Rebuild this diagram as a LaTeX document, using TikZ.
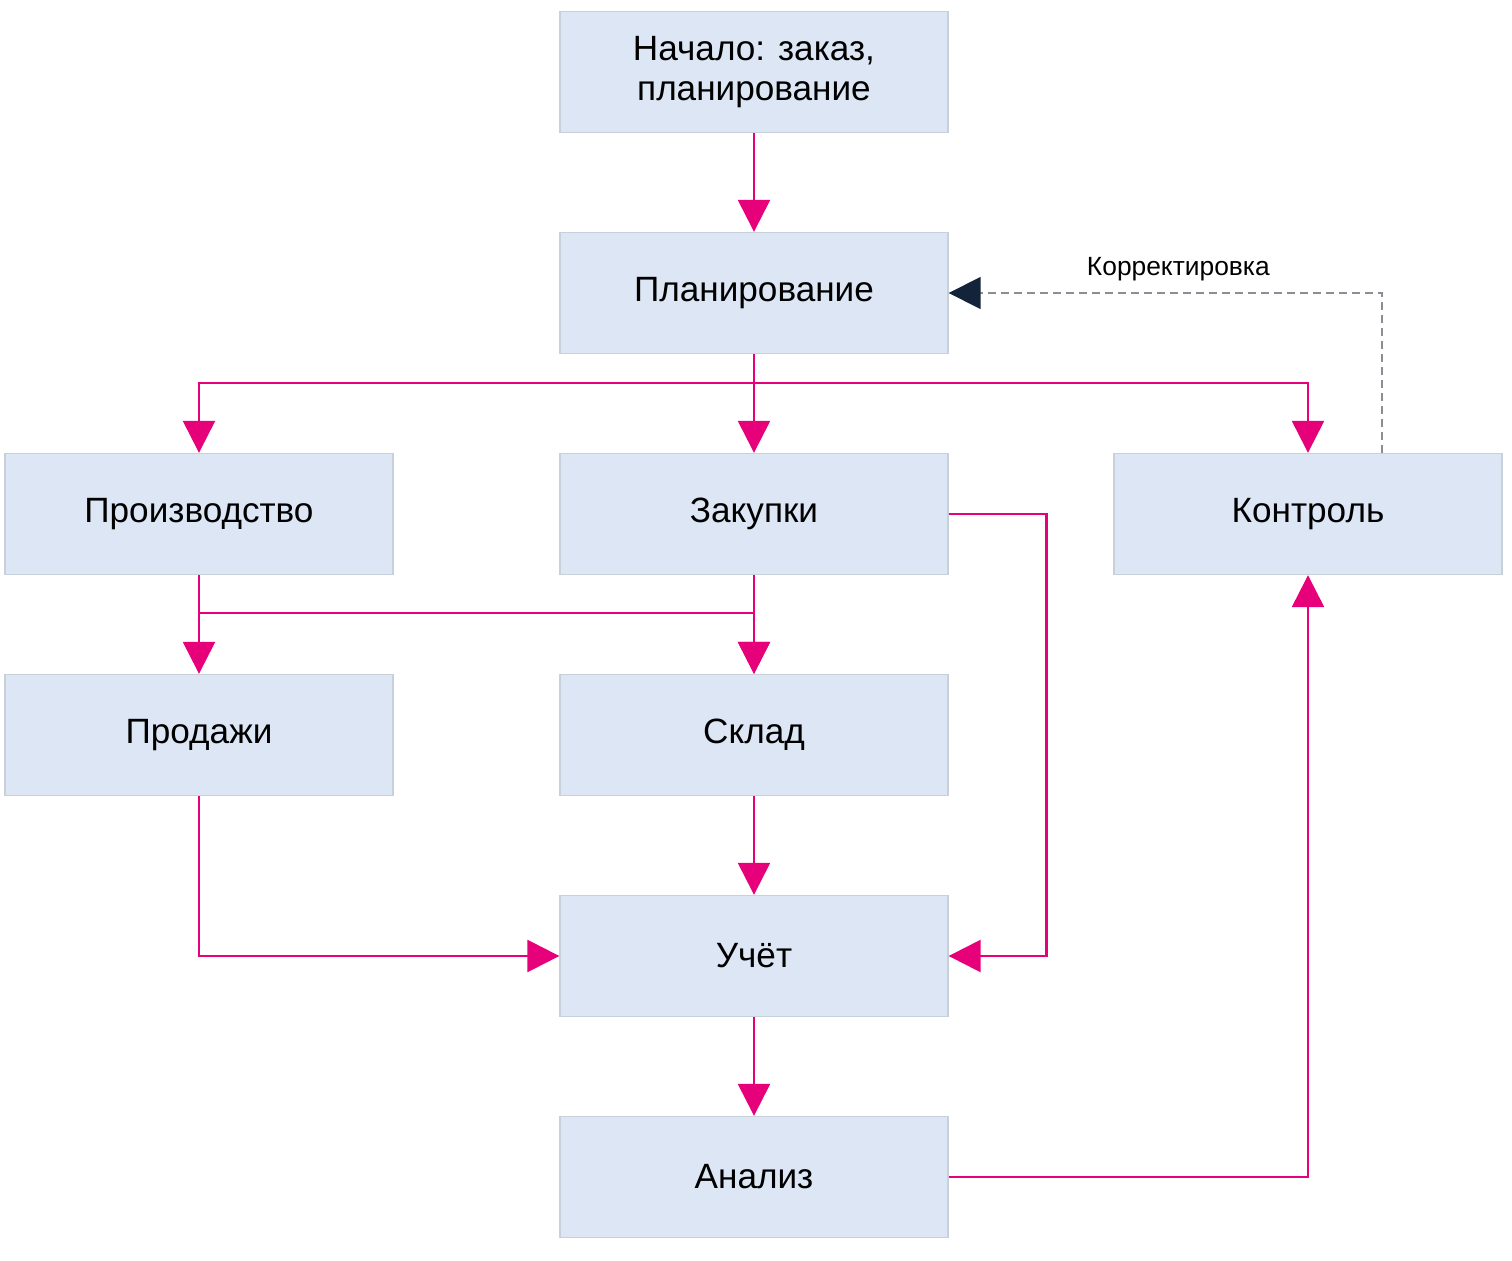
\documentclass[tikz,border=0pt]{standalone}
\usepackage{fontspec}
\setmainfont{Liberation Sans}
\usetikzlibrary{arrows.meta}

\definecolor{boxfill}{HTML}{DDE6F4}
\definecolor{boxline}{HTML}{C8D0DA}
\definecolor{flow}{HTML}{E6007A}
\definecolor{fixline}{HTML}{8A8F96}
\definecolor{fixtip}{HTML}{13243A}

\begin{document}
\begin{tikzpicture}[x=0.02cm,y=-0.02cm,
  blk/.style={draw=boxline,fill=boxfill,line width=0.8pt,minimum width=7.76cm,
    minimum height=2.42cm,inner sep=0pt,align=center,font=\fontsize{20}{23}\selectfont},
  flw/.style={draw=flow,line width=1.4pt,-{Triangle[length=0.64cm,width=0.64cm,fill=flow]}},
  fix/.style={draw=fixline,line width=0.85pt,dash pattern=on 0.16cm off 0.1cm,
    -{Triangle[length=0.64cm,width=0.64cm,fill=fixtip,color=fixtip]}}]
  \useasboundingbox (0,0) rectangle (1512,1261);

  \node[blk] (st) at (754,72) {Начало: заказ,\\планирование};
  \node[blk] (pl) at (754,293) {Планирование};
  \node[blk] (pr) at (199,514) {Производство};
  \node[blk] (zk) at (754,514) {Закупки};
  \node[blk] (kt) at (1308,514) {Контроль};
  \node[blk] (sl) at (199,735) {Продажи};
  \node[blk] (sk) at (754,735) {Склад};
  \node[blk] (uc) at (754,956) {Учёт};
  \node[blk] (an) at (754,1177) {Анализ};

  \coordinate (j1) at (754,383);
  \coordinate (j2) at (199,613);

  \draw[flw] (st) -- (pl);
  \draw[flw] (pl.south) -- (j1) -| (pr.north);
  \draw[flw] (pl.south) -- (zk.north);
  \draw[flw] (pl.south) -- (j1) -| (kt.north);
  \draw[flw] (pr.south) -- (sl.north);
  \draw[flw] (j2) -| (sk.north);
  \draw[flw] (zk.south) -- (sk.north);
  \draw[flw] (zk.east) -- ++(98,0) |- (uc.east);
  \draw[flw] (sk) -- (uc);
  \draw[flw] (sl.south) |- (uc.west);
  \draw[flw] (uc) -- (an);
  \draw[flw] (an.east) -| (kt.south);

  \draw[fix] ([xshift=1.48cm]kt.north) |- node[pos=.735,above=3pt,font=\fontsize{15}{18}\selectfont] {Корректировка} (pl.east);
\end{tikzpicture}
\end{document}
